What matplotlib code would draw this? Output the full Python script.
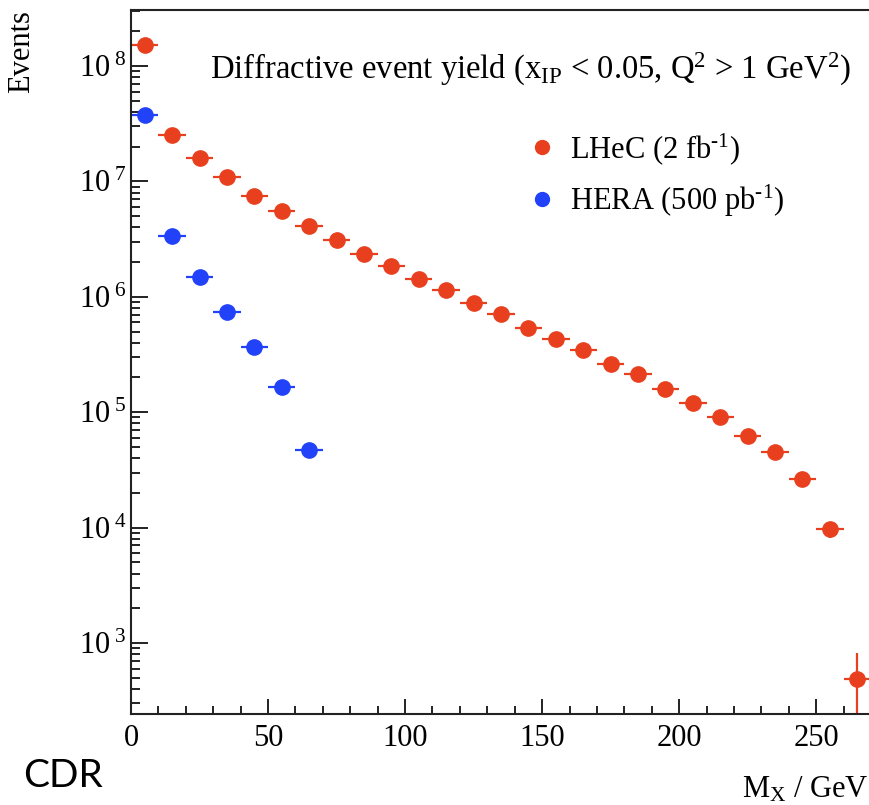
import numpy as np
import matplotlib
matplotlib.use('Agg')
import matplotlib.pyplot as plt
from matplotlib.lines import Line2D
from matplotlib.ticker import LogLocator, MultipleLocator, FuncFormatter, NullFormatter

# diffractive yield per 10 GeV bin of M_X
mx_lhec = [5, 15, 25, 35, 45, 55, 65, 75, 85, 95, 105, 115, 125, 135,
           145, 155, 165, 175, 185, 195, 205, 215, 225, 235, 245, 255, 265]
events_lhec = [1.52e8, 2.52e7, 1.60e7, 1.085e7, 7.52e6, 5.57e6, 4.10e6, 3.10e6,
               2.35e6, 1.85e6, 1.42e6, 1.14e6, 8.9e5, 7.13e5, 5.37e5, 4.29e5,
               3.48e5, 2.64e5, 2.14e5, 1.58e5, 1.21e5, 9.14e4, 6.25e4, 4.55e4,
               2.62e4, 9.66e3, 484]
err_lhec = [0, 0, 0, 0, 0, 0, 0, 0, 0, 0, 0, 0, 0, 0,
            0, 0, 0, 0, 0, 0, 0, 0, 0, 0, 0, 1500, 340]

mx_hera = [5, 15, 25, 35, 45, 55, 65]
events_hera = [3.79e7, 3.37e6, 1.49e6, 7.38e5, 3.67e5, 1.65e5, 4.70e4]
err_hera = [0, 0, 0, 0, 0, 0, 0]

labels = [r'LHeC (2 fb$^{\text{-1}}$)', r'HERA (500 pb$^{\text{-1}}$)']

bin_half = 5
red = '#e8401f'
blue = '#2142f8'
axis_col = '#222222'
fs = 22

plt.rcParams['font.family'] = 'Liberation Serif'
plt.rcParams['mathtext.fontset'] = 'custom'
plt.rcParams['mathtext.rm'] = 'Liberation Serif'
plt.rcParams['mathtext.it'] = 'Liberation Serif:italic'
plt.rcParams['mathtext.bf'] = 'Liberation Serif:bold'

fig = plt.figure(figsize=(8.7, 8.05), dpi=100)
ax = fig.add_axes([131 / 870, 91 / 805, 740 / 870, 704 / 805])

for x, y, e, col in [(mx_lhec, events_lhec, err_lhec, red),
                     (mx_hera, events_hera, err_hera, blue)]:
    ax.errorbar(x, y, xerr=bin_half, yerr=e, fmt='none', ecolor=col,
                elinewidth=1.6, capsize=0, zorder=2)
    ax.plot(x, y, 'o', color=col, ms=11, mec=col, zorder=3)

ax.set_yscale('log')
ax.set_xlim(0, 270)
ax.set_ylim(10 ** 2.385, 10 ** 8.485)

ax.yaxis.set_major_locator(LogLocator(base=10, numticks=20))
ax.yaxis.set_minor_locator(LogLocator(base=10, subs=np.arange(2, 10), numticks=20))
ax.yaxis.set_minor_formatter(NullFormatter())
ax.yaxis.set_major_formatter(FuncFormatter(
    lambda v, p: r'$\mathregular{10^{\ %d}}$' % round(np.log10(v))))
ax.xaxis.set_major_locator(MultipleLocator(50))
ax.xaxis.set_minor_locator(MultipleLocator(10))

ax.tick_params(axis='y', which='major', direction='in', length=12, width=1.4,
               color=axis_col, labelsize=fs, pad=3)
ax.tick_params(axis='y', which='minor', direction='in', length=6.5, width=1.4,
               color=axis_col)
ax.tick_params(axis='x', which='major', direction='in', length=11, width=1.4,
               color=axis_col, labelsize=fs, pad=7)
ax.tick_params(axis='x', which='minor', direction='in', length=6, width=1.4,
               color=axis_col)

for side in ['left', 'bottom', 'top']:
    ax.spines[side].set_color(axis_col)
    ax.spines[side].set_linewidth(1.5)
ax.spines['right'].set_visible(False)

ax.text(720 / 740, 1 - 69 / 704, r'Diffractive event yield ($\mathregular{x_{IP}}$ < 0.05, '
        r'Q$^\mathregular{2}$ > 1 GeV$^\mathregular{2}$)',
        transform=ax.transAxes, ha='right', va='baseline', fontsize=23.5)

handles = [Line2D([], [], marker='o', ls='none', color=red, ms=10),
           Line2D([], [], marker='o', ls='none', color=blue, ms=10)]
ax.legend(handles, labels, loc='upper left', bbox_to_anchor=(0.531, 0.828),
          frameon=False, fontsize=fs, handletextpad=0.3, labelspacing=0.52,
          handlelength=1.2, borderpad=0, borderaxespad=0)

fig.text(22 / 870, 1 - 10 / 805, 'Events', rotation=90, ha='center', va='top',
         fontsize=fs)
fig.text(869 / 870, 1 - 797 / 805, r'M$_\mathregular{X}$ / GeV', ha='right',
         va='baseline', fontsize=fs)
fig.text(23 / 870, 1 - 787 / 805, 'CDR', family='Lato', ha='left', va='baseline',
         fontsize=28)

fig.savefig('out.png', dpi=100)
